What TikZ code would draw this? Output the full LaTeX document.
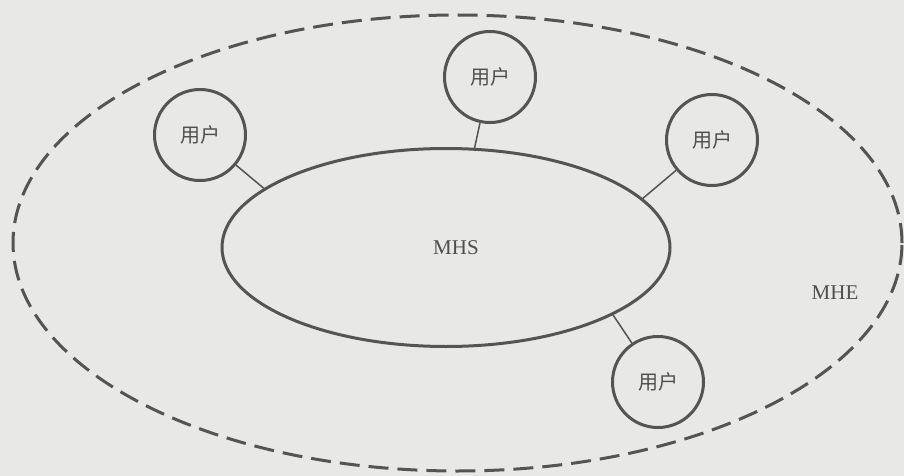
\documentclass[tikz,border=0pt]{standalone}
\usepackage{fontspec}
\setmainfont{Liberation Serif}
\newfontfamily\cjk{Noto Sans CJK SC}
\usetikzlibrary{shapes.geometric}
\definecolor{bgc}{HTML}{E8E8E6}
\definecolor{ink}{HTML}{545454}
\definecolor{txt}{HTML}{4E4E4E}
\tikzset{
  userbox/.style={circle, draw=ink, line width=1.5pt, minimum size=45.5pt, inner sep=0pt,
    font=\cjk\fontsize{10pt}{12pt}\selectfont, text=txt},
  link/.style={draw=ink, line width=0.75pt},
  label/.style={font=\fontsize{10.5pt}{12pt}\selectfont, text=txt, inner sep=0pt}
}
\begin{document}
\begin{tikzpicture}[x=0.5pt, y=-0.5pt]
  \fill[bgc] (0,0) rectangle (904,476);
  \useasboundingbox (0,0) rectangle (904,476);
  \node[ellipse, draw=ink, line width=1.5pt, dash pattern=on 10pt off 4.5pt,
        minimum width=444.5pt, minimum height=228pt, inner sep=0pt] (mhe) at (457.5,243) {};
  \node[ellipse, draw=ink, line width=1.5pt, minimum width=224pt, minimum height=99pt,
        inner sep=0pt] (mhs) at (446,247.5) {};
  \node[label] (mhstext) at (456,248) {MHS};
  \node[label] (mhetext) at (835,293) {MHE};
  \node[userbox] (u1) at (200,135) {用户};
  \node[userbox] (u2) at (490,77) {用户};
  \node[userbox] (u3) at (712,140) {用户};
  \node[userbox] (u4) at (658,382) {用户};
  \draw[link] (u1) -- (mhs.162);
  \draw[link] (u2) -- (mhs.74);
  \draw[link] (u3) -- (mhs.14);
  \draw[link] (u4) -- (mhs.-22);
\end{tikzpicture}
\end{document}
